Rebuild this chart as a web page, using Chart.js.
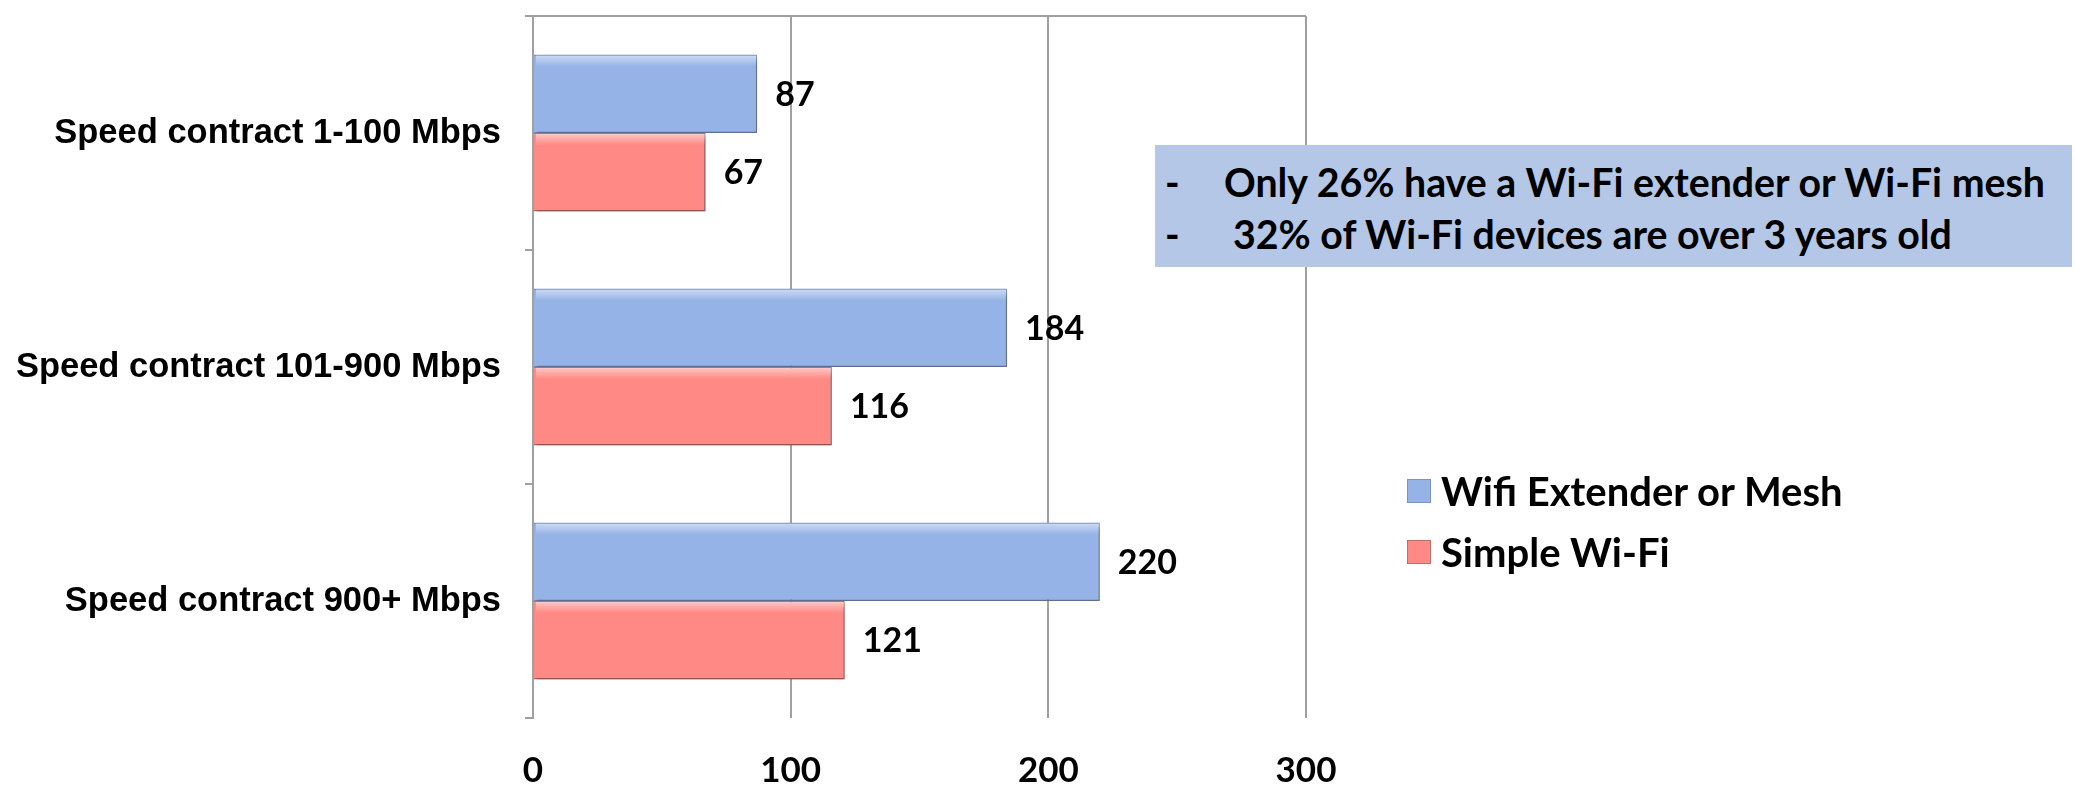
<!DOCTYPE html>
<html>
<head>
<meta charset="utf-8">
<script src="https://cdn.jsdelivr.net/npm/chart.js@4/dist/chart.umd.min.js"></script>
<style>
    body { margin: 0; background: #fff; }
    .wrap { position: relative; width: 2075px; height: 785px; }
    canvas { position: absolute; left: 0; top: 0; }
    .note {
        position: absolute; left: 1155px; top: 145px; width: 917px; height: 122px;
        background: #B4C7E7; font: bold 39.3px Lato, sans-serif; color: #000;
    }
    .note p { position: relative; margin: 0; height: 52px; line-height: 52px; white-space: nowrap; }
    .note p:first-child { margin-top: 11px; }
    .note .dash { position: absolute; left: 10px; }
    .note .txt { position: absolute; left: 69px; }
    .note p + p .txt { left: 78px; }
    .legend { position: absolute; left: 1407px; top: 460px; margin: 0; padding: 0; list-style: none; }
    .legend li {
        display: flex; align-items: center; height: 61px;
        font: bold 40px Lato, sans-serif; color: #000; white-space: nowrap;
    }
    .legend .box { width: 24px; height: 24px; margin-right: 10px; box-sizing: border-box; border: 1.5px solid; }
</style>
</head>
<body>
<div class="wrap">
    <canvas id="speed-chart" width="2075" height="785"></canvas>
    <div class="note">
        <p><span class="dash">-</span><span class="txt">Only 26% have a Wi-Fi extender or Wi-Fi mesh</span></p>
        <p><span class="dash">-</span><span class="txt">32% of Wi-Fi devices are over 3 years old</span></p>
    </div>
    <ul class="legend" id="legend"></ul>
</div>
<script>
// Speed contract groups and average speeds per setup
const categories = ["Speed contract 1-100 Mbps", "Speed contract 101-900 Mbps", "Speed contract 900+ Mbps"];
const meshSpeeds = [87, 184, 220];
const simpleSpeeds = [67, 116, 121];
const xTicks = [0, 100, 200, 300];

const gridGray = '#A0A0A0';

// Soft drop shadow under the bars, then a light sheen along their top edge
const barEffects = {
    id: 'barEffects',
    beforeDatasetsDraw(chart) {
        const ctx = chart.ctx;
        ctx.save();
        ctx.shadowColor = 'rgba(0, 0, 0, 0.28)';
        ctx.shadowBlur = 4;
        ctx.shadowOffsetX = 2;
        ctx.shadowOffsetY = 3;
    },
    afterDatasetsDraw(chart) {
        const ctx = chart.ctx;
        ctx.restore();
        chart.data.datasets.forEach((ds, i) => {
            chart.getDatasetMeta(i).data.forEach(bar => {
                const top = bar.y - bar.height / 2;
                const g = ctx.createLinearGradient(0, top, 0, top + 12);
                g.addColorStop(0, 'rgba(255, 255, 255, 0.55)');
                g.addColorStop(1, 'rgba(255, 255, 255, 0)');
                ctx.fillStyle = g;
                ctx.fillRect(bar.base + 2, top + 1, bar.x - bar.base - 3, 12);
            });
        });
    }
};

// Value written to the right of each bar
const valueLabels = {
    id: 'valueLabels',
    afterDatasetsDraw(chart) {
        const ctx = chart.ctx;
        ctx.save();
        ctx.font = 'bold 34px Lato, sans-serif';
        ctx.fillStyle = '#000';
        ctx.textAlign = 'left';
        ctx.textBaseline = 'middle';
        chart.data.datasets.forEach((ds, i) => {
            chart.getDatasetMeta(i).data.forEach((bar, j) => {
                ctx.fillText(ds.data[j], bar.x + 18, bar.y + 1);
            });
        });
        ctx.restore();
    }
};

const speedCanvas = document.getElementById('speed-chart');
const speedChart = new Chart(speedCanvas, {
    type: 'bar',
    data: {
        labels: categories,
        datasets: [{
            label: 'Wifi Extender or Mesh',
            data: meshSpeeds,
            backgroundColor: '#95B3E7',
            borderColor: '#7D93C3',
            borderWidth: 1.5
        }, {
            label: 'Simple Wi-Fi',
            data: simpleSpeeds,
            backgroundColor: '#FF8A85',
            borderColor: '#C0706C',
            borderWidth: 1.5
        }]
    },
    options: {
        indexAxis: 'y',
        responsive: false,
        animation: false,
        devicePixelRatio: 1,
        categoryPercentage: 0.67,
        barPercentage: 1.0,
        layout: {
            padding: { top: 16, right: 769, bottom: 0, left: 0 }
        },
        scales: {
            x: {
                min: xTicks[0],
                max: xTicks[xTicks.length - 1],
                afterBuildTicks: scale => {
                    scale.ticks = xTicks.map(v => ({ value: v }));
                },
                afterFit: scale => {
                    scale.height = 67;
                    scale.paddingLeft = 0;
                    scale.paddingRight = 0;
                },
                border: { display: false },
                grid: { color: gridGray, lineWidth: 2, drawTicks: false },
                ticks: {
                    color: '#000',
                    padding: 32,
                    font: { family: 'Lato', weight: 'bold', size: 35 }
                }
            },
            y: {
                offset: true,
                afterFit: scale => {
                    scale.width = 533;
                    scale.paddingTop = 0;
                    scale.paddingBottom = 0;
                },
                border: { color: gridGray, width: 2 },
                grid: {
                    offset: true,
                    lineWidth: 2,
                    tickLength: 8,
                    color: c => c.index === 0 ? gridGray : 'transparent',
                    tickColor: gridGray
                },
                ticks: {
                    color: '#000',
                    padding: 24,
                    font: { family: 'Liberation Sans', weight: 'bold', size: 34.5 }
                }
            }
        },
        plugins: {
            legend: { display: false },
            tooltip: { enabled: false }
        }
    },
    plugins: [barEffects, valueLabels]
});

// Legend list built from the chart's own legend items
const legendList = document.getElementById('legend');
speedChart.options.plugins.legend.labels.generateLabels(speedChart).forEach(item => {
    const li = document.createElement('li');
    const box = document.createElement('span');
    box.className = 'box';
    box.style.background = item.fillStyle;
    box.style.borderColor = item.strokeStyle;
    li.appendChild(box);
    li.appendChild(document.createTextNode(item.text));
    legendList.appendChild(li);
});
</script>
</body>
</html>
